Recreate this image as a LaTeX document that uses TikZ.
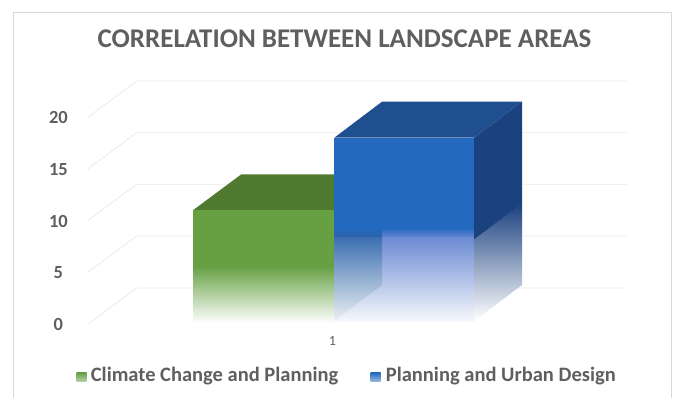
\documentclass[tikz,border=0pt]{standalone}
\usepackage{fontspec}
\setmainfont{Carlito}
\usepackage{tikz}
\usetikzlibrary{positioning}
\definecolor{framegray}{RGB}{217,217,217}
\definecolor{gridgray}{RGB}{234,234,234}
\definecolor{textgray}{RGB}{95,95,95}
\definecolor{greenfront}{RGB}{102,160,67}
\definecolor{greentop}{RGB}{80,122,47}
\definecolor{bluefront}{RGB}{35,105,191}
\definecolor{bluetop}{RGB}{31,79,143}
\definecolor{blueside}{RGB}{27,65,127}
\definecolor{blueinner}{RGB}{94,128,207}
\definecolor{blueteal}{RGB}{43,99,170}
\definecolor{tealmid}{RGB}{59,106,132}

\begin{document}
\begin{tikzpicture}[x=1pt,y=-1pt,text=textgray,font=\bfseries,node distance=51.9pt]
\tikzstyle{grid line}=[gridgray,line width=0.8pt]
\tikzstyle{tick label}=[anchor=east,inner sep=0pt,font=\fontsize{18.5}{20}\bfseries]
\tikzstyle{legend text}=[inner sep=0pt,font=\fontsize{20.5}{22}\bfseries]
   \useasboundingbox (0,0) rectangle (674,397);
   \draw[framegray,line width=1pt] (13,410) -- (13,12.7) -- (671,12.7) -- (671,410);
   \node (title) at (344.5,39) {\fontsize{27}{30}\selectfont CORRELATION BETWEEN LANDSCAPE AREAS};
   \draw[grid line] (87.5,117.5) -- (136.7,81) -- (627,81);
   \draw[grid line] (87.5,169.2) -- (136.7,132.7) -- (627,132.7);
   \draw[grid line] (87.5,220.8) -- (136.7,184.3) -- (627,184.3);
   \draw[grid line] (87.5,272.5) -- (136.7,236) -- (627,236);
   \draw[grid line] (87.5,324.5) -- (136.7,288) -- (627,288);
   \node[tick label] (t20) at (68,117.3) {20};
   \node[tick label] (t15) [below of = t20] {15};
   \node[tick label] (t10) [below of = t15] {10};
   \node[tick label] (t5) [below of = t10] {5};
   \node[tick label] (t0) [below of = t5] {0};
   \fill[greentop] (193.3,210) -- (241.3,174.3) -- (382,174.3) -- (334.3,210) -- cycle;
   \fill[greenfront] (193.3,210) rectangle (334.3,266.5);
   \shade[top color=greenfront,bottom color=white] (193.3,266) rectangle (334.3,323);
   \shade[top color=blueinner,bottom color=white!94!blueinner] (334.3,229) rectangle (474,321);
   \shade[top color=blueteal,middle color=tealmid,bottom color=white!90!tealmid] (334.3,229) -- (382,229) -- (382,285) -- (334.3,321) -- cycle;
   \fill[bluefront] (334.3,137.7) rectangle (474,229.5);
   \shade[top color=bluefront,bottom color=blueinner] (334.3,228) rectangle (474,236);
   \shade[top color=bluefront,bottom color=blueteal] (334.3,228) rectangle (382,236);
   \fill[bluetop] (334.3,137.7) -- (382,101.7) -- (522,101.7) -- (474,137.7) -- cycle;
   \fill[blueside] (474,137.7) -- (522,101.7) -- (522,204) -- (474,240) -- cycle;
   \shade[top color=blueside,middle color=blueside!60!white,bottom color=white] (474,239.5) -- (522,203.5) -- (522,285) -- (474,321) -- cycle;
   \node[font=\fontsize{14}{16}\mdseries] (cat) at (332.5,341) {1};
   \shade[top color=greenfront,bottom color=greenfront!45!white] (76.7,372.7) rectangle (86.7,381.7);
   \coordinate (greenkey) at (86.7,376.5);
   \node[legend text,anchor=west] (greentext) [right=4pt of greenkey] {Climate Change and Planning};
   \shade[top color=bluefront,bottom color=bluefront!45!white] (370.5,372.7) rectangle (380.7,381.7);
   \coordinate (bluekey) at (380.7,376.5);
   \node[legend text,anchor=west] (bluetext) [right=5pt of bluekey] {Planning and Urban Design};
\end{tikzpicture}
\end{document}
